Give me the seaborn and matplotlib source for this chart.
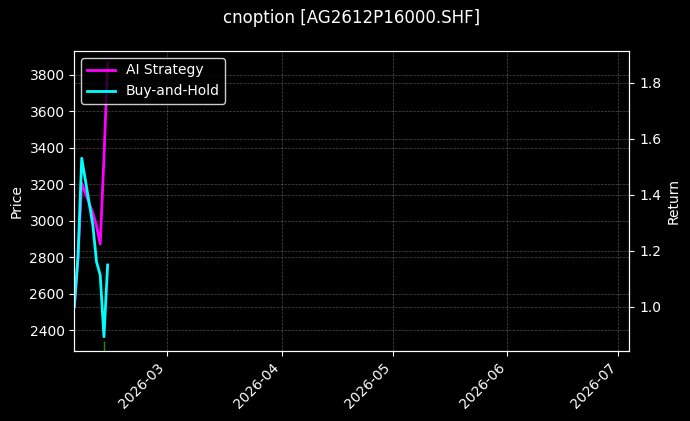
import matplotlib
matplotlib.use("Agg")
import matplotlib.pyplot as plt
import matplotlib.dates as mdates
import seaborn as sns
import pandas as pd

# data
dates = ["2026-02-04", "2026-02-05", "2026-02-06", "2026-02-09",
         "2026-02-10", "2026-02-11", "2026-02-12", "2026-02-13"]
ai_return = [1.0, 1.179, 1.441, 1.334, 1.288, 1.224, 1.53, 1.870]
bh_return = [1.0, 1.179, 1.530, 1.292, 1.160, 1.113, 0.893, 1.149]
buy_dates = ["2026-02-12"]
buy_price = [2305]
title = "cnoption [AG2612P16000.SHF]"

df = pd.DataFrame({"Date": pd.to_datetime(dates),
                   "AI Strategy": ai_return,
                   "Buy-and-Hold": bh_return})

plt.style.use("dark_background")
fig, ax = plt.subplots(figsize=(6.9, 4.21), dpi=100)
fig.subplots_adjust(left=0.1077, right=0.912, top=0.879, bottom=0.1663)
ax2 = ax.twinx()

# buy signal tick on price axis
ax.plot(pd.to_datetime(buy_dates), buy_price, linestyle="none", marker="|",
        markersize=8, color="#1a8a1a", markeredgewidth=1)
ax.set_ylim(2285, 3932)
ax.set_ylabel("Price")

sns.lineplot(data=df, x="Date", y="AI Strategy", ax=ax2, color="#ff00ff",
             linewidth=2, label="AI Strategy")
sns.lineplot(data=df, x="Date", y="Buy-and-Hold", ax=ax2, color="#00ffff",
             linewidth=2, label="Buy-and-Hold")
ax2.set_ylim(0.842, 1.913)
ax2.set_ylabel("Return")
ax2.set_xlabel("")
ax.set_xlabel("")

ax.set_xlim(pd.Timestamp("2026-02-04"), pd.Timestamp("2026-07-03 22:00"))
ax.xaxis.set_major_locator(mdates.MonthLocator())
ax.xaxis.set_major_formatter(mdates.DateFormatter("%Y-%m"))
plt.setp(ax.get_xticklabels(), rotation=45, ha="right")

ax.grid(True, linestyle="--", linewidth=0.5, alpha=0.3)
ax2.grid(True, linestyle="--", linewidth=0.5, alpha=0.3)

leg = ax2.legend(loc="upper left", facecolor="black", edgecolor="white")
ax.set_title(title, fontsize=12, pad=20)

fig.savefig("out.png", dpi=100, facecolor="black")
